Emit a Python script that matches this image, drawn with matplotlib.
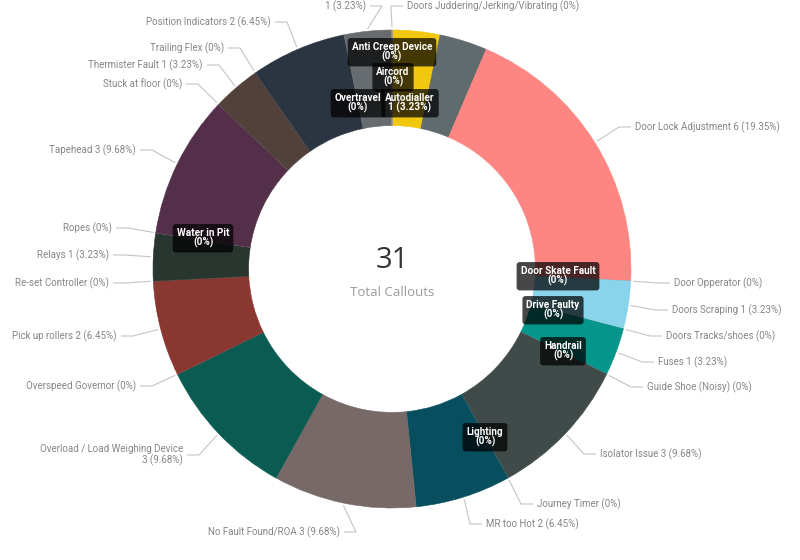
import matplotlib
matplotlib.use("Agg")
import matplotlib.pyplot as plt
import numpy as np

# ---------------- data ----------------
categories = [
    "Autodialler", "", "Door Lock Adjustment", "Door Opperator", "Door Skate Fault",
    "Doors Scraping", "Doors Tracks/shoes", "Drive Faulty", "Fuses", "Guide Shoe (Noisy)",
    "Handrail", "Isolator Issue", "Journey Timer", "Lighting", "MR too Hot",
    "No Fault Found/ROA", "Overload / Load Weighing Device", "Overspeed Governor",
    "Pick up rollers", "Re-set Controller", "Relays", "Ropes", "Water in Pit", "Tapehead",
    "Stuck at floor", "Thermister Fault", "Trailing Flex", "Position Indicators", "",
    "Overtravel", "Anti Creep Device", "Aircord", "Doors Juddering/Jerking/Vibrating",
]
counts = [1, 1, 6, 0, 0, 1, 0, 0, 1, 0, 0, 3, 0, 0, 2, 3, 3, 0, 2, 0, 1, 0, 0, 3,
          0, 1, 0, 2, 1, 0, 0, 0, 0]
center_value = "31"
center_caption = "Total Callouts"

colors = [
    "#F2C80F", "#5F6B6D", "#FD8582", "#999999", "#999999",
    "#8AD4EB", "#999999", "#999999", "#04968A", "#999999",
    "#999999", "#404B49", "#999999", "#999999", "#074E5E",
    "#776968", "#0A5C52", "#999999", "#8A3631", "#999999", "#29352F", "#999999", "#999999", "#532F4A",
    "#999999", "#52403A", "#999999", "#2B3541", "#676C71",
    "#999999", "#999999", "#999999", "#999999",
]

# ---------------- layout (pixel positions of labels) ----------------
# ('out', x, y, ha) outside label with leader; ('in', x, y) dark box label
layout = [
    ("in", 410, 103), None, ("out", 635, 127, "left"), ("out", 674, 283, "left"), ("in", 558, 276),
    ("out", 672, 310, "left"), ("out", 666, 336, "left"), ("in", 553, 310), ("out", 658, 362, "left"),
    ("out", 647, 387, "left"), ("in", 563, 351), ("out", 600, 454, "left"), ("out", 537, 504, "left"),
    ("in", 485, 437), ("out", 486, 524, "left"), ("out", 340, 532, "right"), ("out", 183, 455, "right"),
    ("out", 136, 386, "right"), ("out", 117, 336, "right"), ("out", 109, 283, "right"),
    ("out", 109, 255, "right"), ("out", 112, 228, "right"), ("in", 203, 238), ("out", 136, 150, "right"),
    ("out", 182, 84, "right"), ("out", 203, 65, "right"), ("out", 224, 48, "right"),
    ("out", 271, 22, "right"), ("out", 366, 6, "right"), ("in", 358, 103), ("in", 392, 52),
    ("in", 393, 77), ("out", 407, 6, "left"),
]

W, H = 800, 560
CX, CY, R = 392, 269, 239

fig = plt.figure(figsize=(W / 100, H / 100), dpi=100)
ax = fig.add_axes([(CX - R) / W, (H - CY - R) / H, 2 * R / W, 2 * R / H])


def P(px, py):
    return ((px - CX) / R, (CY - py) / R)


ax.pie(counts, colors=colors, startangle=90, counterclock=False, radius=1.0,
       wedgeprops=dict(width=0.4, linewidth=0.4))
for w, c in zip(ax.patches, colors):
    w.set_edgecolor(c)
ax.set_xlim(-1, 1)
ax.set_ylim(-1, 1)
ax.set_aspect("auto")
ax.axis("off")

total = sum(counts)
cum = np.cumsum([0] + counts)
FONT = ["Roboto", "DejaVu Sans"]
label_color = "#858585"
line_color = "#c4c4c4"

for i, (name, v, lay) in enumerate(zip(categories, counts, layout)):
    if lay is None:
        continue
    if v > 0:
        txt = f"{name} {v} ({v / total * 100:.2f}%)".strip()
        txt2 = f"{v} ({v / total * 100:.2f}%)"
    else:
        txt = f"{name} (0%)"
        txt2 = "(0%)"
    ang = np.deg2rad(360.0 * (cum[i] + v / 2) / total)
    if lay[0] == "out":
        _, tx, ty, ha = lay
        if name.startswith("Overload"):
            txt = f"{name}\n{v} ({v / total * 100:.2f}%)"
        x0, y0 = 1.01 * np.sin(ang), 1.01 * np.cos(ang)
        sgn = -1 if ha == "left" else 1
        ex, ey = P(tx + sgn * 16, ty)
        hx, hy = P(tx + sgn * 4, ty)
        ax.plot([x0, ex, hx], [y0, ey, hy], color=line_color, lw=0.8,
                clip_on=False, solid_capstyle="butt")
        tx_, ty_ = P(tx, ty)
        ax.text(tx_, ty_, txt, ha=ha, va="center", fontsize=7.0, color=label_color,
                family=FONT, linespacing=1.1, multialignment="right" if ha == "right" else "left")
    else:
        _, bx, by = lay
        bx_, by_ = P(bx, by)
        ax.text(bx_, by_, f"{name}\n{txt2}", ha="center", va="center", fontsize=7.2,
                color="white", fontweight="bold", family=FONT, linespacing=0.95,
                bbox=dict(boxstyle="round,pad=0.4,rounding_size=0.3", fc="black",
                          ec="none", alpha=0.72))

ax.text(*P(CX, 261), center_value, ha="center", va="center", fontsize=21,
        color="#333333", family=["Open Sans", "DejaVu Sans"])
ax.text(*P(CX, 293), center_caption, ha="center", va="center", fontsize=9.5,
        color="#9a9a9a", family=["Open Sans", "DejaVu Sans"])

fig.savefig("out.png", dpi=100, facecolor="white")
